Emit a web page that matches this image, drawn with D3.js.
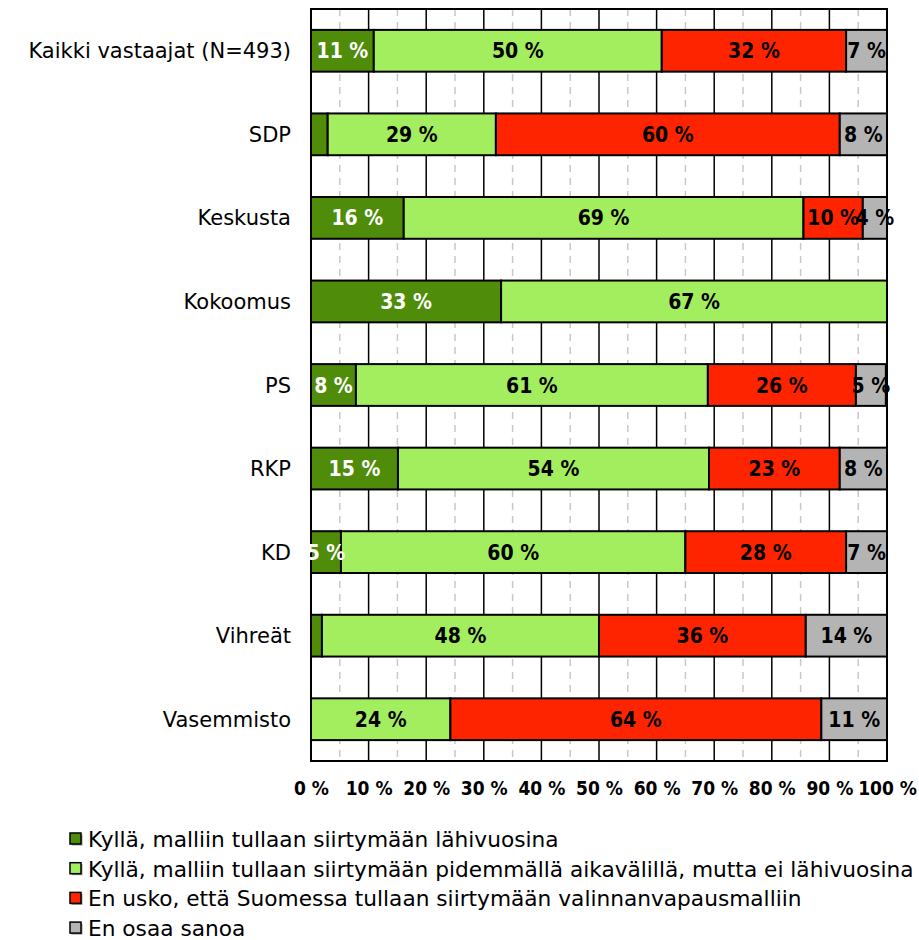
<!DOCTYPE html>
<html>
<head>
<meta charset="utf-8">
<script src="https://cdn.jsdelivr.net/npm/d3@7"></script>
<style>
  body { margin: 0; background: #fff; }
  svg text { font-family: "DejaVu Sans", sans-serif; }
  .lbl, .tick-x text { font-family: "DejaVu Sans Condensed", "DejaVu Sans", sans-serif; font-stretch: condensed; font-weight: bold; }
</style>
</head>
<body>
<div id="chart"></div>
<script>
var categories = ["Kaikki vastaajat (N=493)", "SDP", "Keskusta", "Kokoomus", "PS", "RKP", "KD", "Vihreät", "Vasemmisto"];
var seriesNames = [
    "Kyllä, malliin tullaan siirtymään lähivuosina",
    "Kyllä, malliin tullaan siirtymään pidemmällä aikavälillä, mutta ei lähivuosina",
    "En usko, että Suomessa tullaan siirtymään valinnanvapausmalliin",
    "En osaa sanoa"
];
var kyllaLahi       = [10.9,  2.9, 16.1, 33.0,  7.8, 15.1,  5.2,  1.9,  0.0];
var kyllaPidemmalla = [50.0, 29.2, 69.4, 67.0, 61.1, 54.0, 59.8, 48.1, 24.2];
var enUsko          = [32.0, 59.7, 10.3,  0.0, 25.7, 22.7, 27.9, 35.9, 64.4];
var enOsaa          = [ 7.1,  8.2,  4.2,  0.0,  5.2,  8.2,  7.1, 14.1, 11.4];
var xTicks = [0, 10, 20, 30, 40, 50, 60, 70, 80, 90, 100];
var colors = ["#4e8c0a", "#a3ee5e", "#ff2400", "#b4b4b4"];

var W = 919, H = 940,
    margins = {top: 9, right: 32, bottom: 179, left: 311},
    width = W - margins.left - margins.right,
    height = H - margins.top - margins.bottom;

var svg = d3.select("#chart").append("svg")
    .attr("width", W)
    .attr("height", H);

var g = svg.append("g")
    .attr("transform", "translate(" + margins.left + "," + margins.top + ")");

var x = d3.scaleLinear().domain([0, 100]).range([0, width]);
var y = d3.scaleBand().domain(categories).range([0, height])
    .paddingInner(0.5).paddingOuter(0.25);

// rows of data, one per category
var rows = categories.map(function(c, i) {
    return {cat: c, s0: kyllaLahi[i], s1: kyllaPidemmalla[i], s2: enUsko[i], s3: enOsaa[i]};
});
var stack = d3.stack().keys(["s0", "s1", "s2", "s3"]);
var layers = stack(rows);

// gridlines
var minor = d3.range(5, 100, 10);
g.selectAll(".minor").data(minor).enter().append("line")
    .attr("class", "minor")
    .attr("x1", function(d) { return x(d); })
    .attr("x2", function(d) { return x(d); })
    .attr("y1", 0).attr("y2", height)
    .attr("stroke", "#c8c8c8")
    .attr("stroke-width", 1.5)
    .attr("stroke-dasharray", "7,6");

g.selectAll(".major").data(xTicks.slice(1, -1)).enter().append("line")
    .attr("class", "major")
    .attr("x1", function(d) { return x(d); })
    .attr("x2", function(d) { return x(d); })
    .attr("y1", 0).attr("y2", height)
    .attr("stroke", "#000")
    .attr("stroke-width", 1.5);

// bars
var layer = g.selectAll(".layer").data(layers).enter().append("g")
    .attr("class", "layer")
    .attr("fill", function(d, k) { return colors[k]; });

layer.selectAll("rect").data(function(d) { return d.filter(function(p) { return p[1] - p[0] > 0; }); })
    .enter().append("rect")
    .attr("x", function(d) { return x(d[0]); })
    .attr("y", function(d) { return y(d.data.cat); })
    .attr("width", function(d) { return x(d[1]) - x(d[0]); })
    .attr("height", y.bandwidth())
    .attr("stroke", "#000")
    .attr("stroke-width", 2);

// plot frame
g.append("rect")
    .attr("width", width).attr("height", height)
    .attr("fill", "none")
    .attr("stroke", "#000")
    .attr("stroke-width", 2);

// value labels
layers.forEach(function(l, k) {
    g.append("g").selectAll("text")
        .data(l.filter(function(p) { return Math.round(p[1] - p[0]) >= 4; }))
        .enter().append("text")
        .attr("class", "lbl")
        .attr("x", function(d) { return x((d[0] + d[1]) / 2); })
        .attr("y", function(d) { return y(d.data.cat) + y.bandwidth() / 2; })
        .attr("dy", "0.36em")
        .attr("text-anchor", "middle")
        .attr("font-size", 21)
        .attr("fill", k === 0 ? "#fff" : "#000")
        .text(function(d) { return Math.round(d[1] - d[0]) + " %"; });
});

// x axis
var xAxis = g.append("g")
    .attr("class", "tick-x")
    .attr("transform", "translate(0," + height + ")")
    .call(d3.axisBottom(x).tickValues(xTicks).tickSize(0).tickPadding(0)
        .tickFormat(function(d) { return d + " %"; }));
xAxis.select(".domain").remove();
xAxis.selectAll("text")
    .attr("y", 27)
    .attr("dy", "0.36em")
    .attr("font-size", 19)
    .attr("fill", "#000");

// y axis
var yAxis = g.append("g")
    .call(d3.axisLeft(y).tickSize(0).tickPadding(20));
yAxis.select(".domain").remove();
yAxis.selectAll("text")
    .attr("font-size", 21)
    .attr("font-family", "DejaVu Sans, sans-serif")
    .attr("dy", "0.36em")
    .attr("fill", "#000");

// legend
var legend = svg.append("g").attr("transform", "translate(70,847)");
var item = legend.selectAll("g").data(seriesNames).enter().append("g")
    .attr("transform", function(d, k) { return "translate(0," + (k * 29.7) + ")"; });
item.append("rect")
    .attr("x", 1.5).attr("y", -12.5)
    .attr("width", 11).attr("height", 11)
    .attr("fill", "#999");
item.append("rect")
    .attr("x", 0).attr("y", -14)
    .attr("width", 11).attr("height", 11)
    .attr("fill", function(d, k) { return colors[k]; })
    .attr("stroke", "#000")
    .attr("stroke-width", 1.5);
item.append("text")
    .attr("x", 18)
    .attr("font-size", 21.7)
    .attr("fill", "#000")
    .text(function(d) { return d; });
</script>
</body>
</html>
